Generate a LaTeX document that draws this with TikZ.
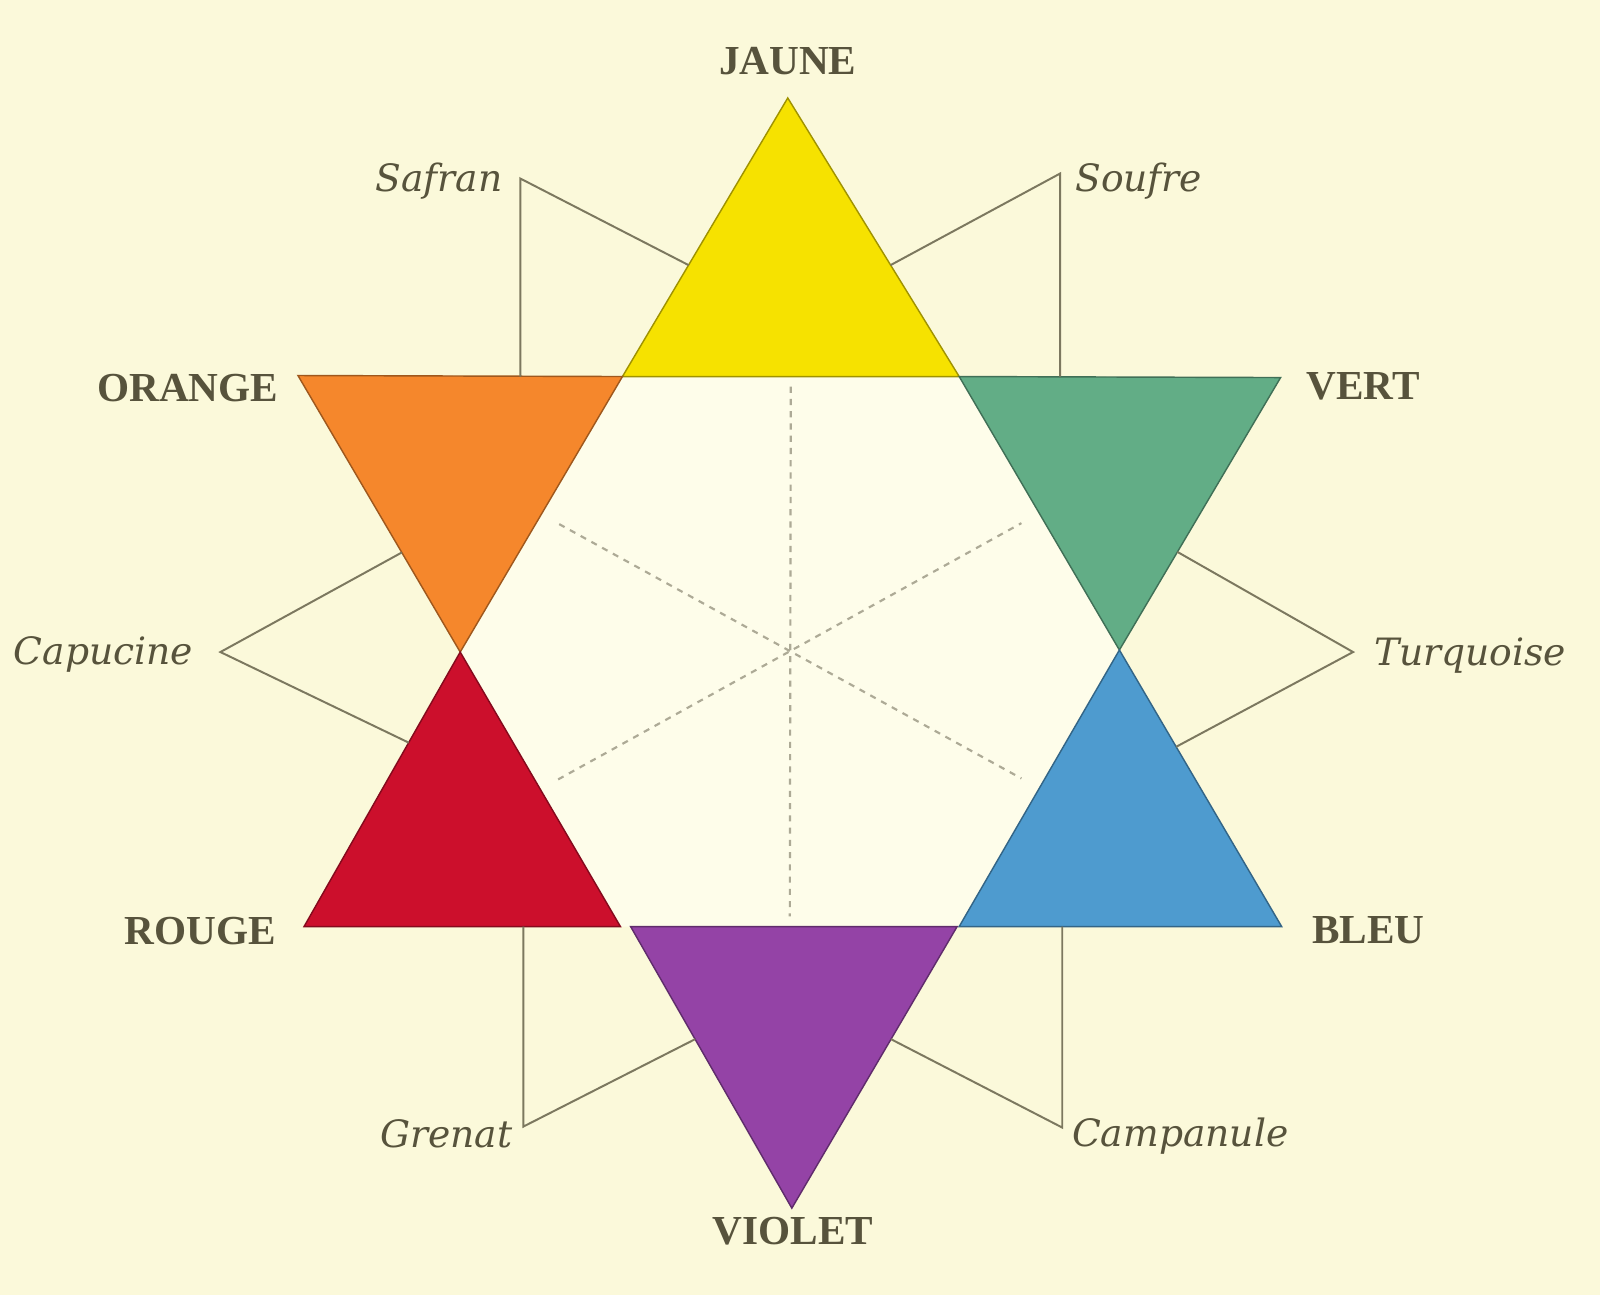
\documentclass[tikz,border=0pt]{standalone}
\usepackage{fontspec}
\setmainfont{Liberation Serif}
\newfontfamily\shadefont{DejaVu Serif}
\usetikzlibrary{calc}
\definecolor{paper}{HTML}{FBF9DA}
\definecolor{hexfill}{HTML}{FEFDEA}
\definecolor{ink}{HTML}{57533C}
\definecolor{guide}{HTML}{7C785F}
\definecolor{axis}{HTML}{ADAA96}
\definecolor{pJaune}{HTML}{F6E200}
\definecolor{pOrange}{HTML}{F5872C}
\definecolor{pVert}{HTML}{62AD86}
\definecolor{pRouge}{HTML}{CC0F2C}
\definecolor{pBleu}{HTML}{4E9BCF}
\definecolor{pViolet}{HTML}{9443A6}

\begin{document}
\begin{tikzpicture}[x=0.1mm, y=-0.1mm,
Hue/.style={font=\fontsize{11.5}{13}\selectfont\bfseries, text=ink, inner sep=0pt},
Shade/.style={font=\shadefont\itshape\fontsize{10.5}{12}\selectfont, text=ink, inner sep=0pt},
Guide/.style={draw=guide, line width=0.55pt},
Axis/.style={draw=axis, line width=0.6pt, dash pattern=on 0.6mm off 0.6mm}]
\fill[paper] (0,0) rectangle (1568,1269);
% hexagon and star points
\coordinate (yTop) at (772,96);
\coordinate (hexA) at (610,369);
\coordinate (hexB) at (940,369);
\coordinate (hexC) at (1097,637);
\coordinate (hexD) at (940,908);
\coordinate (hexE) at (608,908);
\coordinate (hexF) at (451,639);
\coordinate (oL) at (292,368);
\coordinate (gR) at (1255,370);
\coordinate (rL) at (298,908);
\coordinate (bR) at (1256,908);
\coordinate (vL) at (618,908);
\coordinate (vR) at (938,908);
\coordinate (vBot) at (776,1184);
\fill[hexfill] (hexA) -- (hexB) -- (hexC) -- (hexD) -- (hexE) -- (hexF) -- cycle;
\draw[Axis, shorten <=1mm, shorten >=1mm] ($(hexA)!0.5!(hexB)$) -- ($(hexE)!0.5!(hexD)$);
\draw[Axis, shorten <=2mm, shorten >=2mm] ($(hexA)!0.5!(hexF)$) -- ($(hexC)!0.5!(hexD)$);
\draw[Axis, shorten <=2mm, shorten >=2mm] ($(hexF)!0.5!(hexE)$) -- ($(hexB)!0.5!(hexC)$);
\foreach \colr/\a/\b/\c in {pJaune/yTop/hexA/hexB, pOrange/oL/hexA/hexF, pVert/hexB/gR/hexC,
  pRouge/hexF/rL/hexE, pBleu/hexC/bR/hexD, pViolet/vL/vR/vBot} {
  \filldraw[fill=\colr, draw=\colr!65!black, line width=0.4pt] (\a) -- (\b) -- (\c) -- cycle;
}
% primary and secondary names
\node[Hue] (jaune) at (772,60) {JAUNE};
\node[Hue] (orange) at (184,380) {ORANGE};
\node[Hue] (vert) at (1336,379) {VERT};
\node[Hue] (rouge) at (196,912) {ROUGE};
\node[Hue] (bleu) at (1341,912) {BLEU};
\node[Hue] (violet) at (777,1207) {VIOLET};
% intermediate shades
\node[Shade, anchor=base east] (safran) at (493,188) {Safran};
\node[Shade, anchor=base west] (soufre) at (1053,188) {Soufre};
\node[Shade, anchor=base east] (capucine) at (190,651) {Capucine};
\node[Shade, anchor=base west] (turquoise) at (1346,652) {Turquoise};
\node[Shade, anchor=base east] (grenat) at (503,1125) {Grenat};
\node[Shade, anchor=base west] (campanule) at (1050,1124) {Campanule};
\coordinate (safK) at (510,175);
\coordinate (soufK) at (1039,170);
\coordinate (capK) at (216,639);
\coordinate (turK) at (1326,639);
\coordinate (grenK) at (513,1104);
\coordinate (campK) at (1041,1105);
\draw[Guide] (safK |- hexA) -- (safK) -- ($(yTop)!0.6!(hexA)$);
\draw[Guide] (soufK |- hexB) -- (soufK) -- ($(yTop)!0.6!(hexB)$);
\draw[Guide] ($(oL)!0.64!(hexF)$) -- (capK) -- ($(hexF)!0.33!(rL)$);
\draw[Guide] ($(gR)!0.64!(hexC)$) -- (turK) -- ($(hexC)!0.35!(bR)$);
\draw[Guide] (grenK |- hexE) -- (grenK) -- ($(vL)!0.4!(vBot)$);
\draw[Guide] (campK |- hexD) -- (campK) -- ($(vR)!0.4!(vBot)$);
\end{tikzpicture}
\end{document}
